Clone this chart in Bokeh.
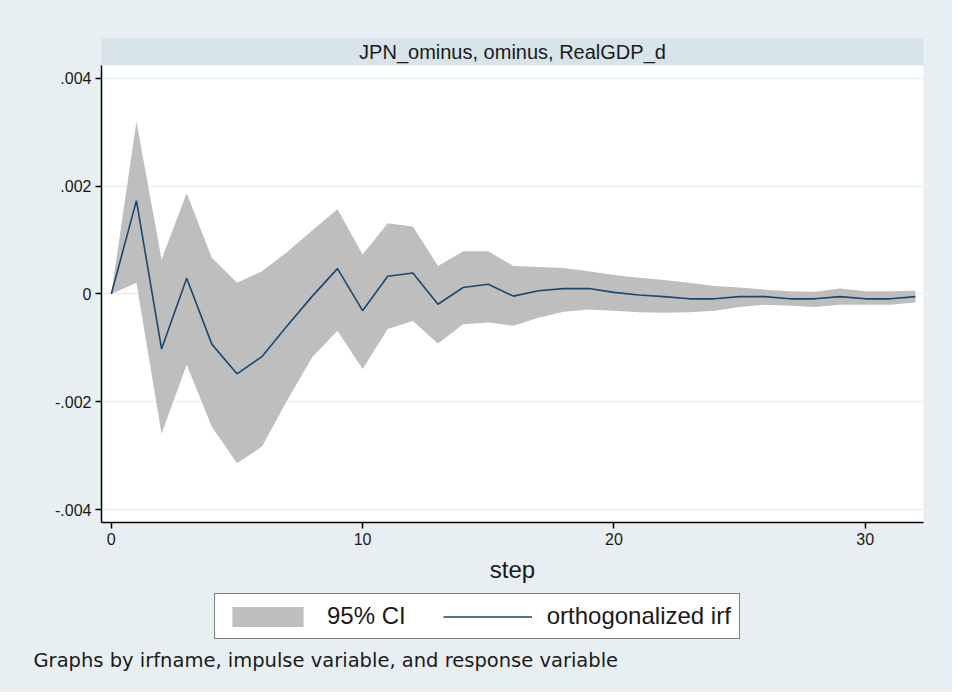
from bokeh.plotting import figure
from bokeh.models import (Legend, LegendItem, Label, FixedTicker, ColumnDataSource,
                          Range1d)
from bokeh.layouts import column
from bokeh.embed import file_html
from bokeh.resources import INLINE

# ---------------- data ----------------
steps = list(range(33))
irf_e3 = [0.00, 1.73, -1.02, 0.29, -0.93, -1.48, -1.16, -0.59, -0.04, 0.47,
          -0.31, 0.33, 0.39, -0.19, 0.12, 0.18, -0.04, 0.06, 0.10, 0.10,
          0.03, -0.02, -0.05, -0.09, -0.09, -0.05, -0.05, -0.09, -0.09, -0.05,
          -0.09, -0.09, -0.05]
ci_upper_e3 = [0.00, 3.20, 0.64, 1.87, 0.67, 0.21, 0.42, 0.78, 1.18, 1.57,
               0.73, 1.31, 1.25, 0.52, 0.79, 0.79, 0.52, 0.50, 0.48, 0.42,
               0.35, 0.30, 0.26, 0.21, 0.15, 0.12, 0.08, 0.05, 0.04, 0.10,
               0.05, 0.05, 0.06]
ci_lower_e3 = [0.00, 0.21, -2.59, -1.31, -2.46, -3.14, -2.83, -1.97, -1.17, -0.68,
               -1.39, -0.65, -0.50, -0.92, -0.56, -0.53, -0.59, -0.44, -0.33, -0.29,
               -0.31, -0.34, -0.35, -0.34, -0.31, -0.24, -0.20, -0.22, -0.24, -0.20,
               -0.20, -0.20, -0.16]

title_text = "JPN_ominus, ominus, RealGDP_d"
x_label = "step"
x_ticks = [0, 10, 20, 30]
y_ticks = [-0.004, -0.002, 0.0, 0.002, 0.004]
y_tick_labels = ["-.004", "-.002", "0", ".002", ".004"]
legend_labels = ["95% CI", "orthogonalized irf"]
note_text = "Graphs by irfname, impulse variable, and response variable"

# ---------------- styling ----------------
BG = "#e8eff2"
STRIP = "#d7e4ea"
BAND = "#bebebe"
LINE = "#1a476f"
GRID = "#e6ecee"
TXT = "#1a1a1a"
FONT = "Liberation Sans"
W = 952

irf = [v * 1e-3 for v in irf_e3]
ci_upper = [v * 1e-3 for v in ci_upper_e3]
ci_lower = [v * 1e-3 for v in ci_lower_e3]
src = ColumnDataSource(dict(step=steps, irf=irf, lo=ci_lower, hi=ci_upper))


def no_frame_align(fig):
    if "frame_align" in fig.properties():
        fig.frame_align = False


# ---------------- title strip ----------------
strip = figure(width=W, height=65, x_range=Range1d(0, 1), y_range=Range1d(0, 1),
               toolbar_location=None, output_backend="svg",
               x_axis_type=None, y_axis_type=None,
               min_border_left=100, min_border_right=W - 925,
               min_border_top=38, min_border_bottom=0)
strip.background_fill_color = STRIP
strip.border_fill_color = BG
strip.outline_line_color = None
strip.add_layout(Label(x=0.5, y=0.5, text=title_text, text_align="center",
                       text_baseline="middle", text_font=FONT,
                       text_font_size="20px", text_color=TXT))

# ---------------- main plot ----------------
p = figure(width=W, height=527,
           x_range=Range1d(-0.39, 32.32), y_range=Range1d(-0.004237, 0.004236),
           toolbar_location=None, output_backend="svg",
           min_border_left=101, min_border_right=W - 923,
           min_border_top=0, min_border_bottom=70)
p.background_fill_color = "white"
p.border_fill_color = BG
p.outline_line_color = None

band = p.varea(x="step", y1="lo", y2="hi", source=src, fill_color=BAND, fill_alpha=1.0)
ln = p.line(x="step", y="irf", source=src, line_color=LINE, line_width=1.6)

p.xaxis.ticker = FixedTicker(ticks=x_ticks)
p.yaxis.ticker = FixedTicker(ticks=y_ticks)
p.yaxis.major_label_overrides = {t: l for t, l in zip(y_ticks, y_tick_labels)}
for ax in (p.xaxis, p.yaxis):
    ax.axis_line_color = "black"
    ax.axis_line_width = 1.5
    ax.major_tick_line_color = "black"
    ax.major_tick_line_width = 1.5
    ax.major_tick_out = 6
    ax.major_tick_in = 0
    ax.minor_tick_line_color = None
    ax.major_label_text_font = FONT
    ax.major_label_text_font_size = "16px"
    ax.major_label_text_color = TXT
    ax.major_label_standoff = 4
p.yaxis.major_label_orientation = "horizontal"
p.xaxis.axis_label = x_label
p.xaxis.axis_label_text_font = FONT
p.xaxis.axis_label_text_font_size = "24px"
p.xaxis.axis_label_text_font_style = "normal"
p.xaxis.axis_label_text_color = TXT
p.xaxis.axis_label_standoff = 8

p.xgrid.grid_line_color = None
p.ygrid.grid_line_color = GRID
p.ygrid.grid_line_width = 1.2

# ---------------- legend + note panel ----------------
# x range lies away from the data, so the proxy renderers only feed the legend
foot = figure(width=W, height=100, x_range=Range1d(-20, -10), y_range=Range1d(0, 1),
              toolbar_location=None, output_backend="svg",
              x_axis_type=None, y_axis_type=None,
              min_border_left=0, min_border_right=0,
              min_border_top=0, min_border_bottom=0)
no_frame_align(foot)
foot.background_fill_color = BG
foot.border_fill_color = BG
foot.outline_line_color = None
band_proxy = foot.varea(x="step", y1="lo", y2="hi", source=src,
                        fill_color=BAND, fill_alpha=1.0)
line_proxy = foot.line(x="step", y="irf", source=src, line_color=LINE,
                       line_width=1.6)
legend = Legend(items=[LegendItem(label=legend_labels[0], renderers=[band_proxy]),
                       LegendItem(label=legend_labels[1], renderers=[line_proxy])],
                orientation="horizontal", location=(214, 53),
                border_line_color="black", border_line_width=1.5,
                background_fill_color="white", background_fill_alpha=1.0,
                padding=8, spacing=37, margin=0,
                glyph_width=89, glyph_height=25, label_standoff=15,
                label_text_font=FONT, label_text_font_size="24px",
                label_text_color=TXT)
foot.add_layout(legend)
foot.add_layout(Label(x=33, y=32, x_units="screen", y_units="screen",
                      text=note_text, text_baseline="middle", text_font="DejaVu Sans",
                      text_font_size="19.5px", text_color=TXT))

layout = column(strip, p, foot, spacing=0, styles={"background-color": BG})

open("out.html", "w").write(file_html(layout, INLINE))
